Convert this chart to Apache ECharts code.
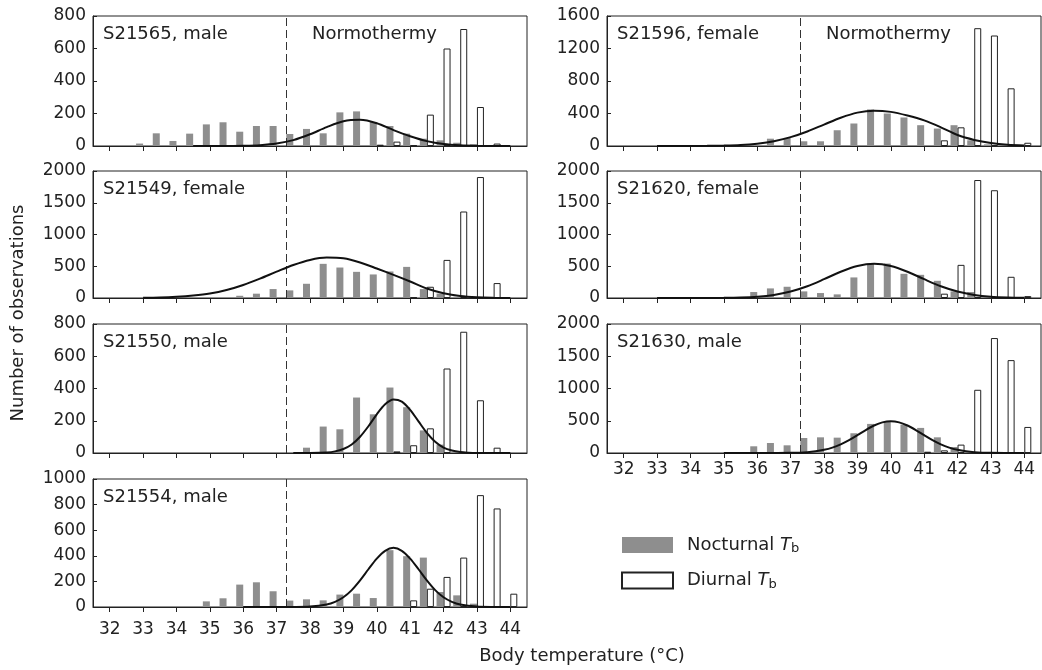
<!DOCTYPE html>
<html>
<head>
<meta charset="utf-8">
<title>Body temperature histograms</title>
<script src="https://cdn.jsdelivr.net/npm/echarts@6/dist/echarts.min.js"></script>
<style>
    html, body { margin: 0; padding: 0; background: #fff; }
    #chart { width: 1042px; height: 670px; }
</style>
</head>
<body>
<div id="chart"></div>
<script>
// bin centres, degC
var bins = [32, 32.5, 33, 33.5, 34, 34.5, 35, 35.5, 36, 36.5, 37, 37.5, 38, 38.5, 39, 39.5, 40, 40.5, 41, 41.5, 42, 42.5, 43, 43.5, 44];
var tickTemps = [32, 33, 34, 35, 36, 37, 38, 39, 40, 41, 42, 43, 44];
var normothermyLimit = 37.4;

var nocS21565 = [0, 0, 15, 78, 31, 76, 133, 146, 88, 123, 123, 74, 105, 78, 207, 213, 148, 123, 76, 45, 35, 20, 10, 0, 0];
var diuS21565 = [0, 0, 0, 0, 0, 0, 0, 0, 0, 0, 0, 0, 0, 0, 0, 0, 8, 27, 5, 193, 600, 720, 240, 15, 0];
var fitS21565 = [[34.5, 0], [35, 0], [35.5, 0.3], [36, 1.4], [36.5, 5], [37, 15], [37.5, 36], [38, 72], [38.5, 116], [39, 152], [39.5, 161], [40, 140], [40.5, 98], [41, 60], [41.5, 30], [42, 12], [42.5, 4], [43, 1], [43.5, 0], [44, 0]];

var nocS21549 = [0, 0, 0, 0, 0, 0, 0, 0, 35, 68, 141, 120, 224, 538, 480, 412, 371, 418, 490, 140, 70, 20, 0, 0, 0];
var diuS21549 = [0, 0, 0, 0, 0, 0, 0, 0, 0, 0, 0, 0, 0, 0, 0, 0, 0, 0, 10, 177, 600, 1362, 1905, 235, 0];
var fitS21549 = [[33, 3], [33.5, 7], [34, 18], [34.5, 38], [35, 70], [35.5, 125], [36, 205], [36.5, 305], [37, 415], [37.5, 520], [38, 600], [38.5, 637], [39, 625], [39.5, 560], [40, 465], [40.5, 365], [41, 260], [41.5, 150], [42, 75], [42.5, 30], [43, 10], [43.5, 3], [44, 1]];

var nocS21550 = [0, 0, 0, 0, 0, 0, 0, 0, 0, 0, 0, 0, 33, 164, 147, 344, 240, 406, 284, 140, 52, 5, 0, 0, 0];
var diuS21550 = [0, 0, 0, 0, 0, 0, 0, 0, 0, 0, 0, 0, 0, 0, 0, 0, 0, 10, 48, 153, 524, 752, 327, 33, 0];
var fitS21550 = [[37.5, 0], [38, 0.3], [38.5, 3.5], [38.75, 10], [39, 25], [39.25, 53], [39.5, 101], [39.75, 166], [40, 240], [40.25, 302], [40.5, 332], [40.75, 319], [41, 268], [41.25, 196], [41.5, 125], [41.75, 70], [42, 34], [42.25, 15], [42.5, 5.5], [42.75, 2], [43, 0.5], [43.5, 0], [44, 0]];

var nocS21554 = [0, 0, 0, 0, 0, 0, 44, 68, 175, 193, 123, 50, 60, 52, 97, 104, 70, 444, 397, 386, 117, 91, 26, 5, 0];
var diuS21554 = [0, 0, 0, 0, 0, 0, 0, 0, 0, 0, 0, 0, 0, 0, 0, 0, 0, 0, 52, 143, 235, 386, 874, 770, 104];
var fitS21554 = [[36, 0], [36.5, 0], [37, 0], [37.5, 0.3], [38, 3], [38.5, 19], [38.75, 40], [39, 76], [39.25, 132], [39.5, 208], [39.75, 295], [40, 378], [40.25, 439], [40.5, 462], [40.75, 439], [41, 378], [41.25, 295], [41.5, 208], [41.75, 132], [42, 76], [42.25, 40], [42.5, 19], [43, 3], [43.5, 0.3], [44, 0]];

var nocS21596 = [0, 0, 0, 0, 0, 0, 0, 0, 10, 90, 100, 58, 58, 194, 277, 450, 400, 351, 256, 215, 256, 70, 20, 0, 0];
var diuS21596 = [0, 0, 0, 0, 0, 0, 0, 0, 0, 0, 0, 0, 0, 0, 0, 0, 0, 0, 0, 70, 230, 1450, 1360, 710, 40];
var fitS21596 = [[33, 0], [33.5, 0], [34, 0.5], [34.5, 2], [35, 5], [35.5, 12], [36, 29], [36.5, 59], [37, 109], [37.5, 179], [38, 264], [38.5, 348], [39, 411], [39.5, 435], [40, 420], [40.5, 375], [41, 315], [41.5, 230], [42, 135], [42.5, 75], [43, 37], [43.5, 15], [44, 6]];

var nocS21620 = [0, 0, 0, 0, 0, 0, 5, 5, 94, 151, 177, 104, 78, 57, 324, 543, 543, 381, 365, 271, 104, 94, 30, 10, 0];
var diuS21620 = [0, 0, 0, 0, 0, 0, 0, 0, 0, 0, 0, 0, 0, 0, 0, 0, 0, 0, 0, 68, 522, 1858, 1697, 334, 30];
var fitS21620 = [[33, 0], [33.5, 0], [34, 0.2], [34.5, 0.7], [35, 2.4], [35.5, 7.5], [36, 20], [36.5, 49], [37, 102], [37.5, 185], [38, 296], [38.5, 414], [39, 505], [39.5, 540], [40, 505], [40.5, 414], [41, 296], [41.5, 185], [42, 102], [42.5, 49], [43, 20], [43.5, 7.5], [44, 2.4]];

var nocS21630 = [0, 0, 0, 0, 0, 0, 5, 5, 104, 155, 119, 233, 243, 238, 306, 451, 492, 440, 389, 243, 93, 20, 5, 0, 0];
var diuS21630 = [0, 0, 0, 0, 0, 0, 0, 0, 0, 0, 0, 0, 0, 0, 0, 0, 0, 0, 20, 41, 130, 980, 1782, 1440, 404];
var fitS21630 = [[35, 0], [35.5, 0], [36, 0], [36.5, 0.4], [37, 2.7], [37.5, 13], [37.75, 26], [38, 49], [38.25, 84], [38.5, 134], [38.75, 199], [39, 276], [39.25, 356], [39.5, 426], [39.75, 475], [40, 492], [40.25, 475], [40.5, 426], [40.75, 356], [41, 276], [41.25, 199], [41.5, 134], [41.75, 84], [42, 49], [42.25, 26], [42.5, 13], [43, 2.7], [43.5, 0.4], [44, 0]];

var panels = [
    {label: 'S21565, male', noc: nocS21565, diu: diuS21565, fit: fitS21565, yMax: 800, yStep: 200, col: 0, row: 0, normo: true},
    {label: 'S21549, female', noc: nocS21549, diu: diuS21549, fit: fitS21549, yMax: 2000, yStep: 500, col: 0, row: 1},
    {label: 'S21550, male', noc: nocS21550, diu: diuS21550, fit: fitS21550, yMax: 800, yStep: 200, col: 0, row: 2},
    {label: 'S21554, male', noc: nocS21554, diu: diuS21554, fit: fitS21554, yMax: 1000, yStep: 200, col: 0, row: 3, xLabels: true, xMargin: 14},
    {label: 'S21596, female', noc: nocS21596, diu: diuS21596, fit: fitS21596, yMax: 1600, yStep: 400, col: 1, row: 0, normo: true},
    {label: 'S21620, female', noc: nocS21620, diu: diuS21620, fit: fitS21620, yMax: 2000, yStep: 500, col: 1, row: 1},
    {label: 'S21630, male', noc: nocS21630, diu: diuS21630, fit: fitS21630, yMax: 2000, yStep: 500, col: 1, row: 2, xLabels: true, xMargin: 8}
];

var FONT = 'DejaVu Sans';
var INK = '#222';
var colLeft = [93, 607];
var rowTop = [16, 171, 324, 479];
var rowHeight = [130, 127, 129, 128];

function toPairs(vals) {
    var out = [];
    for (var k = 0; k < bins.length; k++) {
        if (vals[k] > 0) out.push([bins[k], vals[k]]);
    }
    return out;
}

function plainNumber(v) {
    return String(v);
}

var grids = [], xAxes = [], yAxes = [], series = [], titles = [];

panels.forEach(function (p, i) {
    var left = colLeft[p.col];
    grids.push({
        left: left, top: rowTop[p.row], width: 434, height: rowHeight[p.row],
        show: true, borderColor: INK, borderWidth: 1
    });
    xAxes.push({
        gridIndex: i, type: 'value', min: 31.5, max: 44.5,
        axisLine: {show: true, lineStyle: {color: INK}},
        axisTick: {show: true, length: 5, inside: false, customValues: tickTemps, lineStyle: {color: INK}},
        axisLabel: {show: !!p.xLabels, customValues: tickTemps, formatter: plainNumber,
            fontFamily: FONT, fontSize: 17, color: INK, margin: p.xMargin || 8},
        splitLine: {show: false}
    });
    yAxes.push({
        gridIndex: i, type: 'value', min: 0, max: p.yMax, interval: p.yStep,
        axisLine: {show: true, lineStyle: {color: INK}},
        axisTick: {show: true, inside: true, length: 4, lineStyle: {color: INK}},
        axisLabel: {formatter: plainNumber, fontFamily: FONT, fontSize: 17, color: INK, margin: 7},
        splitLine: {show: false}
    });
    series.push({
        type: 'bar', name: 'Nocturnal', xAxisIndex: i, yAxisIndex: i,
        data: toPairs(p.noc), barWidth: 7, barGap: '0%',
        itemStyle: {color: '#8e8e8e'},
        markLine: {
            silent: true, symbol: ['none', 'none'], label: {show: false},
            lineStyle: {color: '#333', width: 1, type: [8, 4]},
            data: [{xAxis: normothermyLimit}]
        }
    });
    series.push({
        type: 'bar', name: 'Diurnal', xAxisIndex: i, yAxisIndex: i,
        data: toPairs(p.diu), barWidth: 7, barGap: '0%',
        itemStyle: {color: '#fff', borderColor: INK, borderWidth: 1}
    });
    series.push({
        type: 'line', xAxisIndex: i, yAxisIndex: i, data: p.fit,
        smooth: 0.3, symbol: 'none', z: 5,
        lineStyle: {color: '#111', width: 2}
    });
    titles.push({
        text: p.label, left: left + 10, top: rowTop[p.row] + 9, padding: 0,
        textStyle: {fontFamily: FONT, fontSize: 18, fontWeight: 'normal', color: INK}
    });
    if (p.normo) {
        titles.push({
            text: 'Normothermy', left: left + 219, top: rowTop[p.row] + 9, padding: 0,
            textStyle: {fontFamily: FONT, fontSize: 18, fontWeight: 'normal', color: INK}
        });
    }
});

var option = {
    animation: false,
    backgroundColor: '#fff',
    title: titles,
    grid: grids,
    xAxis: xAxes,
    yAxis: yAxes,
    series: series,
    legend: {
        data: ['Nocturnal', 'Diurnal'],
        orient: 'vertical', left: 621, top: 536, padding: 0,
        icon: 'rect', itemWidth: 51, itemHeight: 16, itemGap: 16,
        formatter: function (name) {
            return '{t|' + name + ' }{i|T}{s|b}';
        },
        textStyle: {
            color: INK,
            rich: {
                t: {fontFamily: FONT, fontSize: 18, color: INK, padding: [0, 0, 0, 9]},
                i: {fontFamily: FONT, fontSize: 18, fontStyle: 'italic', color: INK},
                s: {fontFamily: FONT, fontSize: 13, color: INK, verticalAlign: 'bottom', padding: [8, 0, 0, 0]}
            }
        }
    },
    graphic: [
        {
            type: 'text', x: 18, y: 313, rotation: Math.PI / 2,
            style: {text: 'Number of observations', font: '18px "DejaVu Sans"', fill: INK,
                textAlign: 'center', textVerticalAlign: 'middle', align: 'center', verticalAlign: 'middle'}
        },
        {
            type: 'text', x: 582, y: 656,
            style: {text: 'Body temperature (°C)', font: '18px "DejaVu Sans"', fill: INK,
                textAlign: 'center', textVerticalAlign: 'middle', align: 'center', verticalAlign: 'middle'}
        }
    ]
};

var myChart = echarts.init(document.getElementById('chart'));
myChart.setOption(option);
</script>
</body>
</html>
